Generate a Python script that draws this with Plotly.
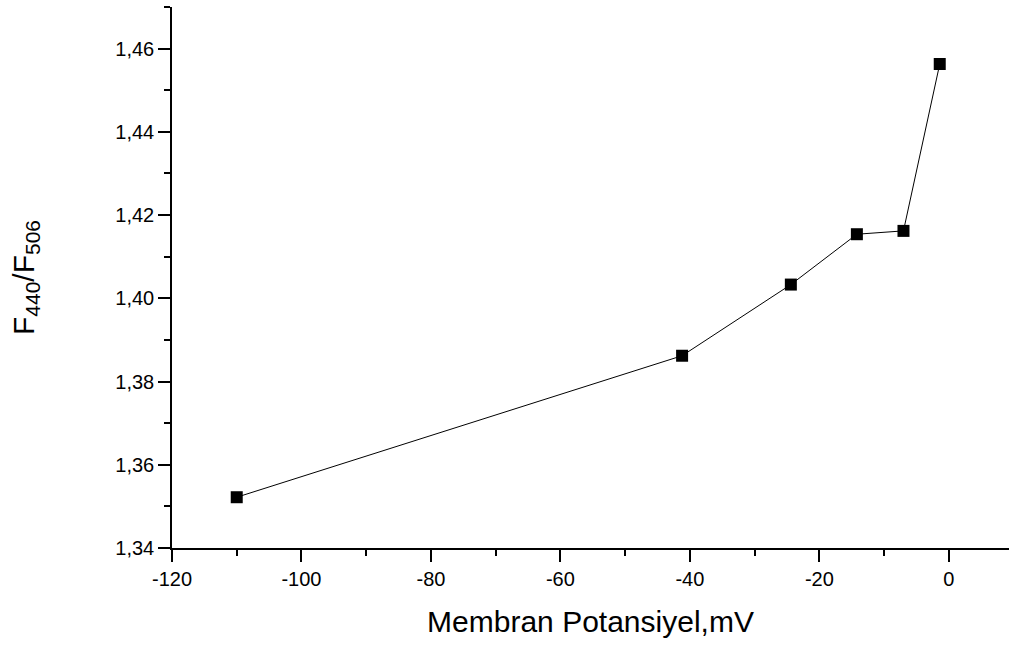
import plotly.graph_objects as go

# Data
membrane_potential_mV = [-110, -41.2, -24.4, -14.2, -7.0, -1.4]
f440_f506_ratio = [1.3522, 1.3862, 1.4033, 1.4154, 1.4162, 1.4563]

x_tick_vals = [-120, -100, -80, -60, -40, -20, 0]
x_tick_text = ["-120", "-100", "-80", "-60", "-40", "-20", "0"]
y_tick_vals = [1.34, 1.36, 1.38, 1.40, 1.42, 1.44, 1.46]
y_tick_text = ["1,34", "1,36", "1,38", "1,40", "1,42", "1,44", "1,46"]

font_family = "Liberation Sans, Arial, sans-serif"

fig = go.Figure()
fig.add_trace(go.Scatter(
    x=membrane_potential_mV,
    y=f440_f506_ratio,
    mode="lines+markers",
    line=dict(color="black", width=1),
    marker=dict(symbol="square", size=12, color="black"),
    showlegend=False,
))

fig.update_layout(
    width=1009,
    height=646,
    margin=dict(l=172, r=0, t=7, b=98),
    paper_bgcolor="white",
    plot_bgcolor="white",
    font=dict(family=font_family, color="black"),
    separators=", ",
)

fig.update_xaxes(
    range=[-120, 9.3],
    tickmode="array",
    tickvals=x_tick_vals,
    ticktext=x_tick_text,
    ticks="outside",
    ticklen=12,
    tickwidth=1.5,
    tickcolor="black",
    tickfont=dict(size=20, family=font_family),
    minor=dict(dtick=10, tick0=0, ticks="outside", ticklen=6, tickwidth=1.5, tickcolor="black", showgrid=False),
    showline=True,
    linecolor="black",
    linewidth=1.5,
    showgrid=False,
    zeroline=False,
    title=dict(text="Membran Potansiyel,mV", font=dict(size=30, family=font_family), standoff=22),
)

fig.update_yaxes(
    range=[1.34, 1.47],
    tickmode="array",
    tickvals=y_tick_vals,
    ticktext=y_tick_text,
    ticks="outside",
    ticklen=12,
    tickwidth=1.5,
    tickcolor="black",
    tickfont=dict(size=20, family=font_family),
    minor=dict(dtick=0.01, tick0=1.34, ticks="outside", ticklen=6, tickwidth=1.5, tickcolor="black", showgrid=False),
    showline=True,
    linecolor="black",
    linewidth=1.5,
    showgrid=False,
    zeroline=False,
    title=dict(text="F<sub>440</sub>/F<sub>506</sub>", font=dict(size=30, family=font_family), standoff=72),
)

fig.write_html("out.html")
